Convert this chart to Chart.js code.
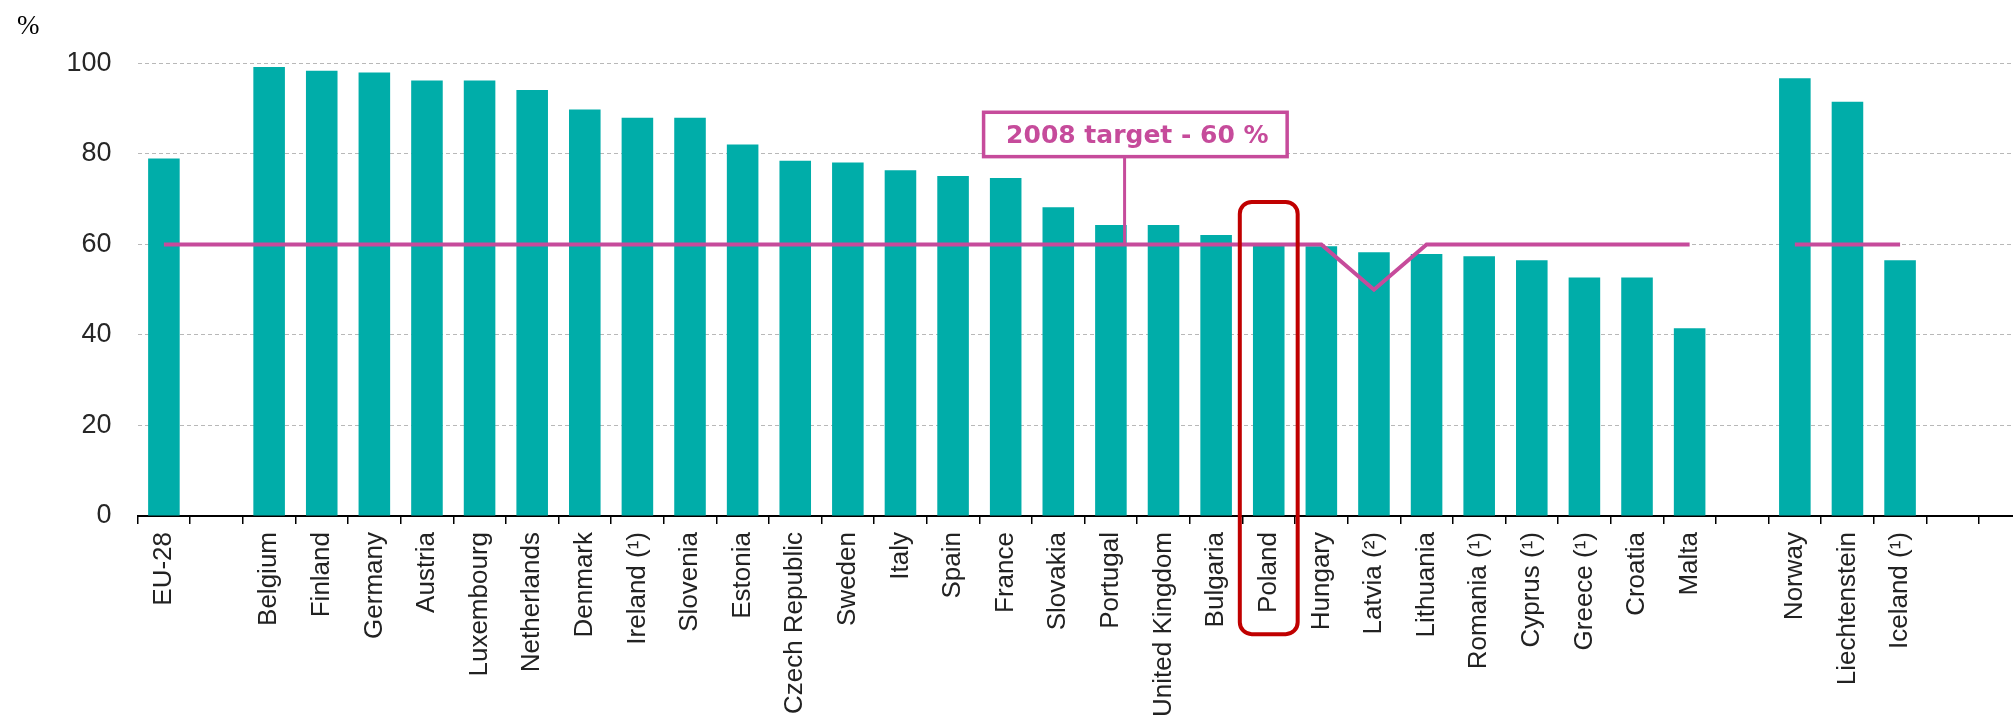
<!DOCTYPE html>
<html>
<head>
<meta charset="utf-8">
<script src="https://cdn.jsdelivr.net/npm/chart.js@4.4.1/dist/chart.umd.min.js"></script>
<style>
  html, body { margin: 0; padding: 0; background: #fff; overflow: hidden; }
  #wrap { width: 2050px; height: 715px; }
</style>
</head>
<body>
<div id="wrap"><canvas id="myChart" width="2050" height="715"></canvas></div>
<script>
// data
const countries = [
    'EU-28', '', 'Belgium', 'Finland', 'Germany', 'Austria', 'Luxembourg', 'Netherlands',
    'Denmark', 'Ireland (¹)', 'Slovenia', 'Estonia', 'Czech Republic', 'Sweden', 'Italy',
    'Spain', 'France', 'Slovakia', 'Portugal', 'United Kingdom', 'Bulgaria', 'Poland',
    'Hungary', 'Latvia (²)', 'Lithuania', 'Romania (¹)', 'Cyprus (¹)', 'Greece (¹)',
    'Croatia', 'Malta', '', 'Norway', 'Liechtenstein', 'Iceland (¹)', '', ''
];
const recyclingRate = [
    79.0, null, 99.2, 98.4, 98.0, 96.2, 96.2, 94.1,
    89.8, 88.0, 88.0, 82.1, 78.5, 78.1, 76.4,
    75.1, 74.7, 68.2, 64.3, 64.3, 62.1, 60.0,
    59.6, 58.3, 57.9, 57.4, 56.5, 52.7,
    52.7, 41.5, null, 96.7, 91.5, 56.5, null, null
];
const target2008 = [
    60, 60, 60, 60, 60, 60, 60, 60,
    60, 60, 60, 60, 60, 60, 60,
    60, 60, 60, 60, 60, 60, 60,
    60, 50, 60, 60, 60, 60,
    60, 60, null, 60, 60, 60, null, null
];
const yTicks = [0, 20, 40, 60, 80, 100];
const targetLabel = '2008 target - 60 %';
const highlighted = 'Poland';

//colours
const teal = '#00ADA9';
const magenta = '#C64B9B';
const darkRed = '#C00000';

// callout placement (in axis units)
const callout = { left: 15.58, right: 21.35, top: 89.2, bottom: 79.4, stem: 18.26 };

const annotationPlugin = {
    id: 'annotations',
    afterDatasetsDraw(chart) {
        const { ctx, scales: { x, y } } = chart;
        const catW = x.getPixelForValue(1) - x.getPixelForValue(0);

        // red frame round the highlighted country
        const i = countries.indexOf(highlighted);
        const cx = x.getPixelForValue(i);
        const fx = cx - catW * 0.55;
        const fw = catW * 1.1;
        const fy = y.getPixelForValue(69.4);
        const fh = y.getPixelForValue(-26.1) - fy;
        ctx.save();
        ctx.strokeStyle = darkRed;
        ctx.lineWidth = 4;
        ctx.beginPath();
        ctx.roundRect(fx, fy, fw, fh, 12);
        ctx.stroke();

        // target callout
        const bx = x.getPixelForValue(callout.left);
        const bw = x.getPixelForValue(callout.right) - bx;
        const by = y.getPixelForValue(callout.top);
        const bh = y.getPixelForValue(callout.bottom) - by;
        const sx = x.getPixelForValue(callout.stem);

        ctx.strokeStyle = magenta;
        ctx.lineWidth = 3;
        ctx.beginPath();
        ctx.moveTo(sx, by + bh);
        ctx.lineTo(sx, y.getPixelForValue(60));
        ctx.stroke();

        ctx.fillStyle = '#fff';
        ctx.fillRect(bx, by, bw, bh);
        ctx.lineWidth = 3.5;
        ctx.strokeRect(bx, by, bw, bh);

        ctx.fillStyle = magenta;
        ctx.font = 'bold 25px "DejaVu Sans"';
        ctx.textAlign = 'center';
        ctx.textBaseline = 'middle';
        ctx.fillText(targetLabel, bx + bw / 2 + 2, by + bh / 2 + 2);
        ctx.restore();
    }
};

const ctx = document.getElementById('myChart').getContext('2d');

new Chart(ctx, {
    data: {
        labels: countries,
        datasets: [
            {
                type: 'line',
                label: 'target',
                data: target2008,
                borderColor: magenta,
                borderWidth: 4,
                pointRadius: 0,
                tension: 0,
                spanGaps: false,
                order: 0
            },
            {
                type: 'bar',
                label: 'rate',
                data: recyclingRate,
                backgroundColor: teal,
                barPercentage: 0.6,
                categoryPercentage: 1,
                order: 1
            }
        ]
    },
    options: {
        responsive: false,
        animation: false,
        layout: { padding: { left: 17, right: 18.4, top: 0, bottom: 0 } },
        plugins: {
            legend: { display: false },
            tooltip: { enabled: false },
            title: {
                display: true,
                text: '%',
                align: 'start',
                color: '#000',
                font: { family: '"Liberation Serif"', size: 27, weight: 'normal' },
                padding: { top: 11, bottom: 20 }
            }
        },
        scales: {
            x: {
                grid: {
                    display: true,
                    drawOnChartArea: false,
                    drawTicks: true,
                    tickLength: 8,
                    color: '#000',
                    lineWidth: 1.5
                },
                border: { display: true, color: '#000', width: 2 },
                ticks: {
                    autoSkip: false,
                    maxRotation: 90,
                    minRotation: 90,
                    padding: 8,
                    color: '#222',
                    font: { family: '"Liberation Sans"', size: 26 }
                },
                afterFit: (scale) => { scale.height = 199; }
            },
            y: {
                min: 0,
                max: 100,
                afterBuildTicks: (scale) => {
                    scale.ticks = yTicks.map(v => ({ value: v }));
                },
                grid: {
                    drawTicks: false,
                    color: (c) => c.tick && c.tick.value === 0 ? 'rgba(0,0,0,0)' : '#b8b8b8',
                    lineWidth: 1
                },
                border: { display: false, dash: [4, 3] },
                ticks: {
                    padding: 26,
                    color: '#262626',
                    font: { family: '"Liberation Sans"', size: 27 }
                },
                afterFit: (scale) => { scale.width = 120.6; }
            }
        }
    },
    plugins: [annotationPlugin]
});
</script>
</body>
</html>
